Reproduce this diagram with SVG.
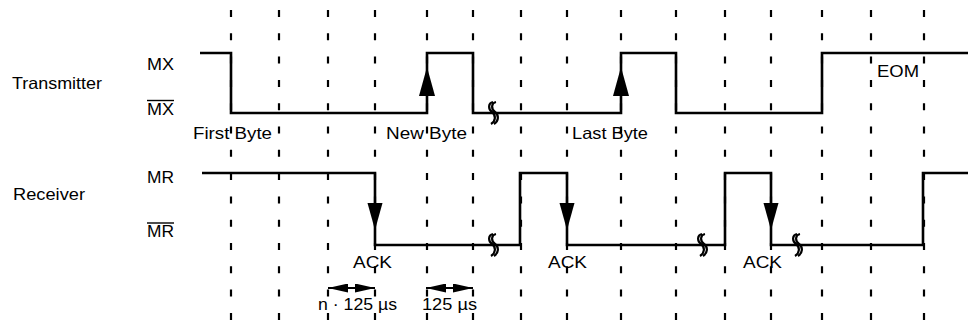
<svg xmlns="http://www.w3.org/2000/svg" xmlns:xlink="http://www.w3.org/1999/xlink" width="968" height="330" viewBox="0 0 968 330">
<style>
  text { font-family: "Liberation Sans", Arial, sans-serif; font-size: 16.5px; fill: #000; }
  .grid line { stroke: #000; stroke-width: 2.2; stroke-dasharray: 7 16.3; }
  .sig { fill: none; stroke: #000; stroke-width: 2.6; stroke-linejoin: miter; }
  .ah { fill: #000; stroke: none; }
  .brk { fill: none; stroke: #000; stroke-width: 2.2; }
  .ov { stroke: #000; stroke-width: 1.4; }
  .dim { stroke: #000; stroke-width: 2; }
</style>
<defs>
  <marker id="dimArrow" viewBox="0 0 20 9" refX="20" refY="4.5" markerWidth="20" markerHeight="9" markerUnits="userSpaceOnUse" orient="auto-start-reverse">
    <path d="M0,0 L20,4.5 L0,9 Z" fill="#000"/>
  </marker>
  <path id="upHead" class="ah" d="M0,0 L-8,29 L8,29 Z"/>
  <path id="downHead" class="ah" d="M0,0 L-7.5,-27 L7.5,-27 Z"/>
  <g id="breakMark">
    <path class="brk" d="M0,-11 C-5,-10 -5,-4 -1,-1 C3,2 3,8 -2,11"/>
    <path class="brk" d="M3,-11 C-2,-10 -2,-4 2,-1 C6,2 6,8 1,11"/>
  </g>
</defs>

<g id="grid" class="grid">
  <line x1="231" y1="10" x2="231" y2="322"/>
  <line x1="279" y1="10" x2="279" y2="322"/>
  <line x1="328" y1="10" x2="328" y2="322"/>
  <line x1="375" y1="10" x2="375" y2="322"/>
  <line x1="427" y1="10" x2="427" y2="322"/>
  <line x1="473" y1="10" x2="473" y2="322"/>
  <line x1="521" y1="10" x2="521" y2="322"/>
  <line x1="567" y1="10" x2="567" y2="322"/>
  <line x1="621" y1="10" x2="621" y2="322"/>
  <line x1="676" y1="10" x2="676" y2="322"/>
  <line x1="725" y1="10" x2="725" y2="322"/>
  <line x1="771" y1="10" x2="771" y2="322"/>
  <line x1="822" y1="10" x2="822" y2="322"/>
  <line x1="871" y1="10" x2="871" y2="322"/>
  <line x1="924" y1="10" x2="924" y2="322"/>
</g>

<g id="labels">
  <text x="12" y="89" textLength="90" lengthAdjust="spacingAndGlyphs">Transmitter</text>
  <text x="13" y="200" textLength="72" lengthAdjust="spacingAndGlyphs">Receiver</text>
  <text x="147" y="70" textLength="27" lengthAdjust="spacingAndGlyphs">MX</text>
  <text x="147" y="115" textLength="27" lengthAdjust="spacingAndGlyphs">MX</text>
  <line class="ov" x1="147" y1="100.5" x2="174" y2="100.5"/>
  <text x="147" y="183" textLength="27" lengthAdjust="spacingAndGlyphs">MR</text>
  <text x="147" y="237" textLength="27" lengthAdjust="spacingAndGlyphs">MR</text>
  <line class="ov" x1="147" y1="223" x2="174" y2="223"/>
</g>

<g id="transmitter">
  <path class="sig" d="M200,53 H231 V113 H427 V53 H473 V113 H621 V53 H676 V113 H822 V53 H968"/>
  <use xlink:href="#upHead" x="427" y="67"/>
  <use xlink:href="#upHead" x="621" y="67"/>
  <use xlink:href="#breakMark" x="493" y="113"/>
  <text x="193" y="139" textLength="79" lengthAdjust="spacingAndGlyphs">First Byte</text>
  <text x="386" y="139" textLength="81" lengthAdjust="spacingAndGlyphs">New Byte</text>
  <text x="572" y="139" textLength="76" lengthAdjust="spacingAndGlyphs">Last Byte</text>
  <text x="877" y="77" textLength="42" lengthAdjust="spacingAndGlyphs">EOM</text>
</g>

<g id="receiver">
  <path class="sig" d="M202,173 H375 V245 H520 V173 H567 V245 H725 V173 H771 V245 H923 V173 H968"/>
  <use xlink:href="#downHead" x="375" y="230"/>
  <use xlink:href="#downHead" x="567" y="230"/>
  <use xlink:href="#downHead" x="771" y="230"/>
  <use xlink:href="#breakMark" x="493" y="245"/>
  <use xlink:href="#breakMark" x="702" y="245"/>
  <use xlink:href="#breakMark" x="797" y="245"/>
  <text x="353" y="268" textLength="39" lengthAdjust="spacingAndGlyphs">ACK</text>
  <text x="548" y="268" textLength="39" lengthAdjust="spacingAndGlyphs">ACK</text>
  <text x="743" y="268" textLength="39" lengthAdjust="spacingAndGlyphs">ACK</text>
</g>

<g id="connectors">
  <line class="dim" x1="328" y1="288" x2="375" y2="288" marker-start="url(#dimArrow)" marker-end="url(#dimArrow)"/>
  <line class="dim" x1="426" y1="288" x2="473" y2="288" marker-start="url(#dimArrow)" marker-end="url(#dimArrow)"/>
</g>

<g id="timing">
  <text x="318" y="310" textLength="79" lengthAdjust="spacingAndGlyphs">n · 125 µs</text>
  <text x="422" y="310" textLength="55" lengthAdjust="spacingAndGlyphs">125 µs</text>
</g>
</svg>
